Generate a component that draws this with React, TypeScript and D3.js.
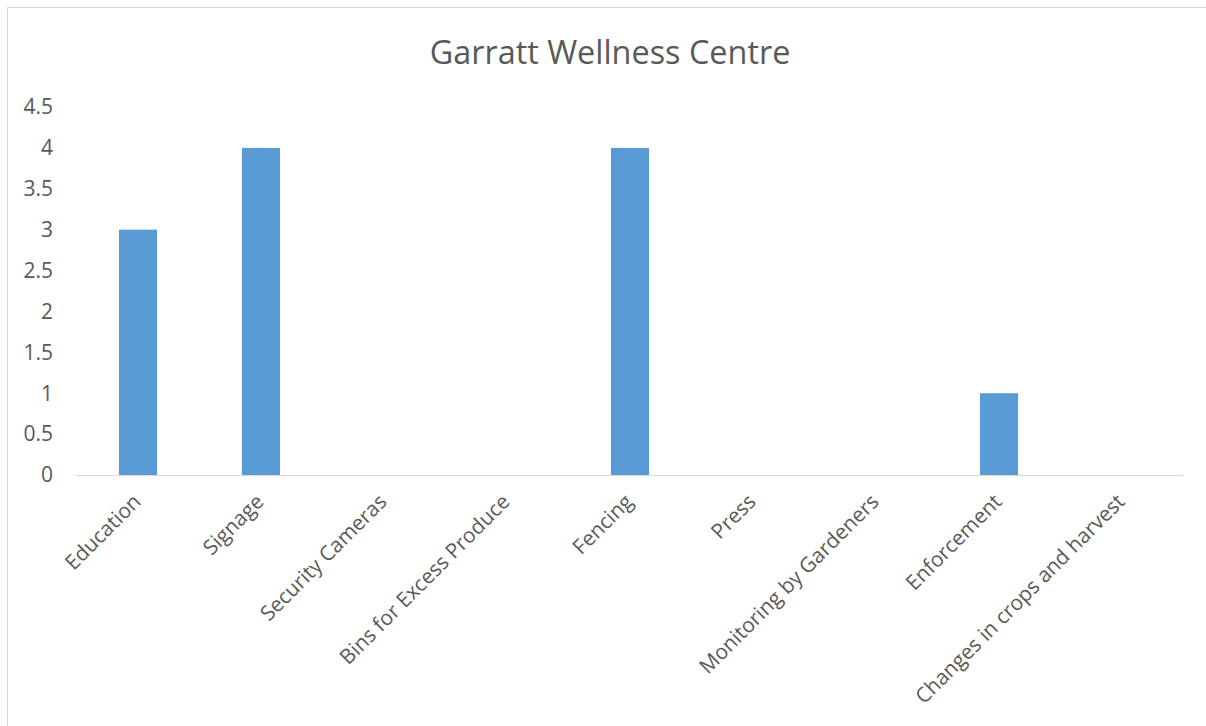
import React from "react";
import * as d3 from "d3";

const categories = [
  "Education",
  "Signage",
  "Security Cameras",
  "Bins for Excess Produce",
  "Fencing",
  "Press",
  "Monitoring by Gardeners",
  "Enforcement",
  "Changes in crops and harvest",
];
const values = [3, 4, 0, 0, 4, 0, 0, 1, 0];
const yTicks = [0, 0.5, 1, 1.5, 2, 2.5, 3, 3.5, 4, 4.5];
const title = "Garratt Wellness Centre";

const W = 1206;
const H = 726;
const FONT = "'Open Sans', 'Liberation Sans', sans-serif";

export default function App() {
  const x = d3
    .scaleBand<string>()
    .domain(categories)
    .range([76.5, 1183.5])
    .paddingInner(0.69)
    .paddingOuter(0.345);
  const y = d3.scaleLinear().domain([0, 4.5]).range([475, 107]);

  return (
    <div style={{ position: "absolute", left: 0, top: 0 }}>
      <svg width={W} height={H} style={{ display: "block", background: "#fff" }}>
        <rect x={7.5} y={7.5} width={W + 10} height={H + 10} fill="#fff" stroke="#d9d9d9" strokeWidth={1} />
        <text x={610} y={64} textAnchor="middle" fontFamily={FONT} fontSize={32.4} fill="#595959">
          {title}
        </text>
        {yTicks.map((t) => (
          <text key={t} x={53} y={y(t)} dy="0.35em" textAnchor="end" fontFamily={FONT} fontSize={21} fill="#595959">
            {t}
          </text>
        ))}
        {categories.map((c, i) => (
          <rect key={c} x={x(c)} y={y(values[i])} width={x.bandwidth()} height={y(0) - y(values[i])} fill="#5b9bd5" />
        ))}
        <line x1={76.5} x2={1183.5} y1={475.5} y2={475.5} stroke="#d9d9d9" strokeWidth={1} />
        {categories.map((c) => {
          const cx = (x(c) as number) + x.bandwidth() / 2 + 4;
          const cy = 503;
          return (
            <text
              key={c}
              x={cx}
              y={cy}
              textAnchor="end"
              transform={`rotate(-45 ${cx} ${cy})`}
              fontFamily={FONT}
              fontSize={20.8}
              fill="#595959"
            >
              {c}
            </text>
          );
        })}
      </svg>
    </div>
  );
}
